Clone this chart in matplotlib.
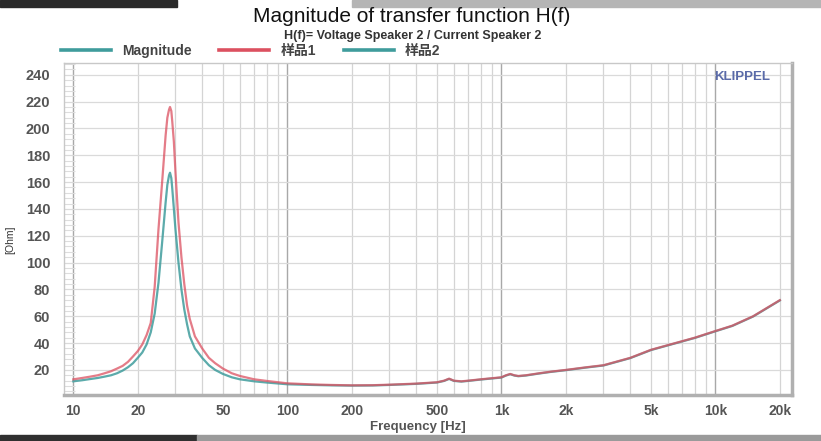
import matplotlib.pyplot as plt
from matplotlib.lines import Line2D
from matplotlib.patches import Rectangle
from matplotlib.ticker import FixedLocator, NullFormatter

plt.rcParams['font.family'] = ['Liberation Sans', 'Noto Sans CJK SC', 'DejaVu Sans']

# (Hz, Ohm)
freq = [10, 11, 12, 13, 14, 15, 16, 17, 18, 19, 20, 21, 22, 23, 24, 25, 26, 27, 27.5,
        28, 28.3, 28.7, 29, 29.5, 30, 31, 32, 33, 34, 35, 37, 40, 43, 46, 50, 55, 60,
        70, 80, 100, 130, 160, 200, 250, 300, 400, 500, 540, 570, 600, 650, 700, 800,
        900, 1000, 1050, 1100, 1150, 1200, 1300, 1500, 1700, 2000, 2500, 3000, 4000,
        5000, 6000, 8000, 10000, 12000, 15000, 20000]

sample1 = [13, 14, 15, 16, 17.5, 19, 21, 23, 26, 30, 34, 39, 46, 55, 82, 125, 160, 195, 208,
           214, 216, 213, 205, 190, 168, 130, 104, 84, 68, 58, 45, 36, 29, 25, 21, 17.5, 15.5,
           13, 11.8, 10, 9.2, 8.8, 8.5, 8.6, 9, 9.8, 10.8, 12, 13.5, 12, 11.5, 12, 13,
           13.8, 14.5, 16, 17, 16, 15.5, 16, 17.5, 18.7, 20, 22, 23.5, 29,
           35, 38.5, 44, 49, 53, 60, 72]

sample2 = [11.5, 12.3, 13.2, 14, 15, 16, 17.5, 19.5, 22, 25, 29, 33, 39, 48, 62, 85, 115, 145, 158,
           165, 167, 163, 155, 140, 125, 100, 80, 65, 54, 45, 36, 29, 23.5, 20, 17, 14.5, 13,
           11.5, 10.6, 9.3, 8.8, 8.5, 8.3, 8.4, 8.8, 9.6, 10.6, 11.8, 13.3, 11.8, 11.3, 11.8, 12.8,
           13.6, 14.3, 15.8, 16.8, 15.8, 15.3, 15.8, 17.3, 18.5, 19.8, 21.8, 23.3, 28.8,
           34.8, 38.3, 43.8, 48.8, 52.8, 59.8, 71.8]

xticks = [10, 20, 50, 100, 200, 500, 1000, 2000, 5000, 10000, 20000]
xtick_labels = ['10', '20', '50', '100', '200', '500', '1k', '2k', '5k', '10k', '20k']
yticks = [20, 40, 60, 80, 100, 120, 140, 160, 180, 200, 220, 240]

red = '#dc5060'
teal = '#3f9c9c'

fig = plt.figure(figsize=(8.21, 4.41), dpi=100)
ax = fig.add_axes([0.078, 0.1043, 0.8867, 0.7535])

ax.plot(freq, sample2, color=teal, lw=1.6, alpha=0.85)
ax.plot(freq, sample1, color=red, lw=1.6, alpha=0.75)

ax.set_xscale('log')
ax.set_xlim(9.05, 22800)
ax.set_ylim(1.3, 249)

minors = [m * 10 ** d for d in range(1, 5) for m in range(2, 10) if m * 10 ** d < 22800]
ax.xaxis.set_major_locator(FixedLocator([10, 100, 1000, 10000]))
ax.xaxis.set_minor_locator(FixedLocator(minors))
ax.xaxis.set_minor_formatter(NullFormatter())
ax.xaxis.set_major_formatter(NullFormatter())
ax.grid(which='major', axis='x', color='#a8a8a8', lw=1.0)
ax.grid(which='minor', axis='x', color='#d4d4d4', lw=0.9)
ax.set_yticks(yticks)
ax.grid(which='major', axis='y', color='#dadada', lw=0.9)
ax.set_axisbelow(True)

for f, lab in zip(xticks, xtick_labels):
    ax.text(f, -0.027, lab, transform=ax.get_xaxis_transform(), ha='center', va='top',
            fontsize=10, fontweight='bold', color='#555555')
ax.tick_params(axis='x', which='both', length=0)
ax.tick_params(axis='y', which='major', length=0, pad=10, labelsize=10.5, labelcolor='#555555')
for t in ax.get_yticklabels():
    t.set_fontweight('bold')
ax.set_yticks(range(4, 249, 4), minor=True)
ax.tick_params(axis='y', which='minor', direction='in', length=8, color='#dddddd', width=0.8)

for s in ['top', 'left']:
    ax.spines[s].set_color('#c8c8c8')
    ax.spines[s].set_linewidth(1.0)
for s in ['bottom', 'right']:
    ax.spines[s].set_color('#b0b0b0')
    ax.spines[s].set_linewidth(2.5)

ax.text(0.931, 0.958, 'KLIPPEL', transform=ax.transAxes, ha='center', va='center',
        fontsize=9.5, fontweight='bold', color='#5a6aa8')

fig.text(0.501, 0.962, 'Magnitude of transfer function H(f)', ha='center', va='center',
         fontsize=15, color='#111111')
fig.text(0.503, 0.919, 'H(f)= Voltage Speaker 2 / Current Speaker 2', ha='center', va='center',
         fontsize=9, fontweight='bold', color='#333333')
fig.text(0.012, 0.456, '[Ohm]', rotation=90, ha='center', va='center', fontsize=7.5,
         color='#333333')
fig.text(0.509, 0.032, 'Frequency [Hz]', ha='center', va='center', fontsize=9.5,
         fontweight='bold', color='#555555')

handles = [Line2D([], [], color=teal, lw=2.6), Line2D([], [], color=red, lw=2.6),
           Line2D([], [], color=teal, lw=2.6)]
fig.legend(handles, ['Magnitude', '样品1', '样品2'], loc='center left',
           bbox_to_anchor=(0.074, 0.884), ncol=3, frameon=False,
           prop={'size': 10, 'weight': 'bold'},
           handlelength=3.6, handletextpad=0.8, columnspacing=2.0,
           labelcolor='#444444', borderaxespad=0, borderpad=0)

# photo edges at top and bottom
fig.patches.append(Rectangle((0, 0.984), 177 / 821, 0.016, transform=fig.transFigure,
                             color='#2a2a2a', zorder=0))
fig.patches.append(Rectangle((352 / 821, 0.984), 1, 0.016, transform=fig.transFigure,
                             color='#b5b5b5', zorder=0))
fig.patches.append(Rectangle((0, 0), 197 / 821, 0.014, transform=fig.transFigure,
                             color='#303030', zorder=0))
fig.patches.append(Rectangle((197 / 821, 0), 1, 0.014, transform=fig.transFigure,
                             color='#9a9a9a', zorder=0))

fig.savefig('out.png', dpi=100)
